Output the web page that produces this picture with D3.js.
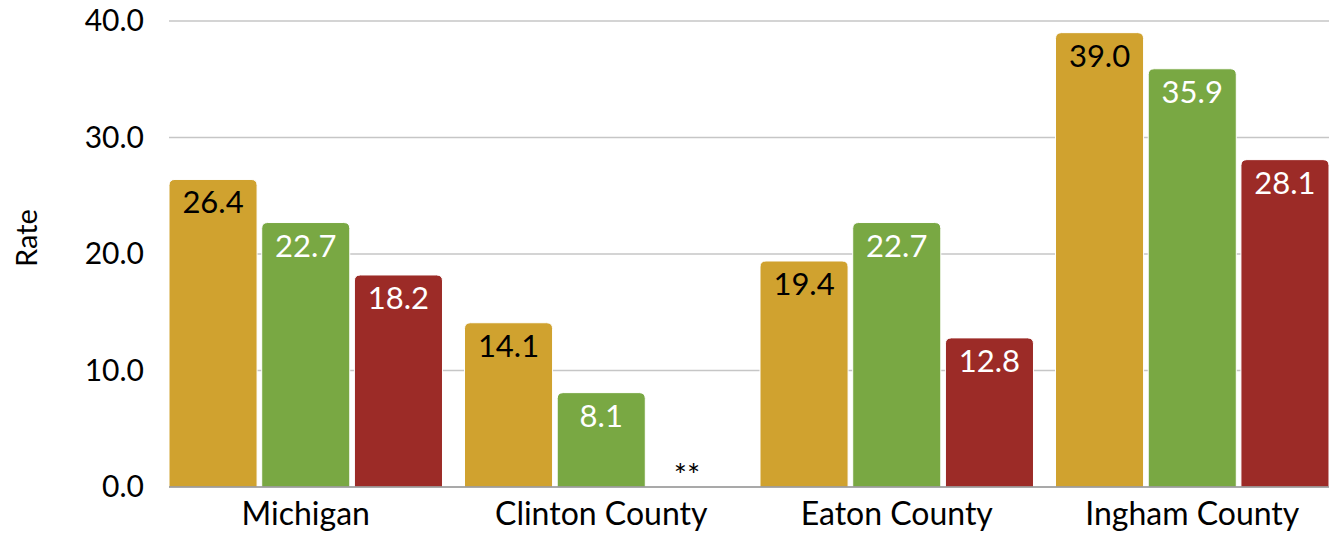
<!DOCTYPE html>
<html>
<head>
<meta charset="utf-8">
<script src="https://cdn.jsdelivr.net/npm/d3@7"></script>
<style>
  html, body { margin: 0; padding: 0; background: #fff; }
  svg { display: block; font-family: Lato, "Open Sans", sans-serif; }
</style>
</head>
<body>
<svg id="chart" width="1332" height="533"></svg>
<script>
// Rates by area, three series per area (null = suppressed value)
const categories = ["Michigan", "Clinton County", "Eaton County", "Ingham County"];
const seriesGold  = [26.4, 14.1, 19.4, 39.0];
const seriesGreen = [22.7, 8.1, 22.7, 35.9];
const seriesRed   = [18.2, null, 12.8, 28.1];
const yTicks = [0, 10, 20, 30, 40];

const series = [
  { key: "gold",  values: seriesGold,  fill: "#D0A22F", text: "#000" },
  { key: "green", values: seriesGreen, fill: "#79A843", text: "#fff" },
  { key: "red",   values: seriesRed,   fill: "#9C2B27", text: "#fff" }
];

const svg = d3.select("#chart");
const plotLeft = 169, plotRight = 1329, plotTop = 21, plotBottom = 487;
const tickFont = 30, valueFont = 31, catFont = 32;

const x0 = d3.scaleBand().domain(categories).range([plotLeft, plotRight])
  .paddingInner(0.0745).paddingOuter(0);
const x1 = d3.scaleBand().domain(series.map(s => s.key)).range([0, x0.bandwidth()])
  .paddingInner(0.05).paddingOuter(0);
const y = d3.scaleLinear().domain([0, 40]).range([plotBottom, plotTop]);

// Horizontal gridlines
svg.append("g").selectAll("line").data(yTicks.filter(t => t > 0)).join("line")
  .attr("x1", plotLeft).attr("x2", plotRight)
  .attr("y1", d => y(d)).attr("y2", d => y(d))
  .attr("stroke", "#c6c6c6").attr("stroke-width", 1.5);

// Y axis tick labels
const yAxis = d3.axisLeft(y).tickValues(yTicks).tickFormat(d3.format(".1f")).tickSize(0).tickPadding(25);
const gy = svg.append("g").attr("transform", `translate(${plotLeft},0)`).call(yAxis);
gy.select(".domain").remove();
gy.selectAll("text").attr("font-size", tickFont).attr("fill", "#000")
  .attr("font-family", "Lato, sans-serif");

// Axis title
svg.append("text")
  .attr("transform", `translate(37,238) rotate(-90)`)
  .attr("text-anchor", "middle")
  .attr("font-size", 29).attr("fill", "#000")
  .attr("font-family", "Lato, sans-serif")
  .text("Rate");

// Bars with rounded top corners
function topRounded(x, yTop, w, h, r) {
  r = Math.min(r, h, w / 2);
  return `M${x},${yTop + h}V${yTop + r}Q${x},${yTop} ${x + r},${yTop}` +
         `H${x + w - r}Q${x + w},${yTop} ${x + w},${yTop + r}V${yTop + h}Z`;
}

const groups = svg.append("g").selectAll("g").data(categories).join("g")
  .attr("transform", d => `translate(${x0(d)},0)`);

series.forEach(s => {
  groups.each(function(cat, i) {
    const v = s.values[i];
    const g = d3.select(this);
    const bx = x1(s.key), bw = x1.bandwidth();
    if (v == null) {
      g.append("text")
        .attr("x", bx + bw / 2 - 7).attr("y", y(0) - 1)
        .attr("text-anchor", "middle").attr("font-size", valueFont).attr("fill", "#000")
        .text("**");
      return;
    }
    g.append("path")
      .attr("d", topRounded(bx, y(v), bw, y(0) - y(v), 6))
      .attr("fill", s.fill)
      .attr("stroke", "#fff").attr("stroke-width", 1);
    g.append("text")
      .attr("x", bx + bw / 2).attr("y", y(v) + 34)
      .attr("text-anchor", "middle").attr("font-size", valueFont).attr("fill", s.text)
      .text(d3.format(".1f")(v));
  });
});

// Baseline
svg.append("line").attr("x1", plotLeft).attr("x2", plotRight)
  .attr("y1", y(0)).attr("y2", y(0)).attr("stroke", "#8c8c8c").attr("stroke-width", 1.5);

// X axis labels
const xAxis = d3.axisBottom(x0).tickSize(0).tickPadding(15);
const gx = svg.append("g").attr("transform", `translate(0,${plotBottom})`).call(xAxis);
gx.select(".domain").remove();
gx.selectAll("text").attr("font-size", catFont).attr("fill", "#000")
  .attr("font-family", "Lato, sans-serif");
</script>
</body>
</html>
